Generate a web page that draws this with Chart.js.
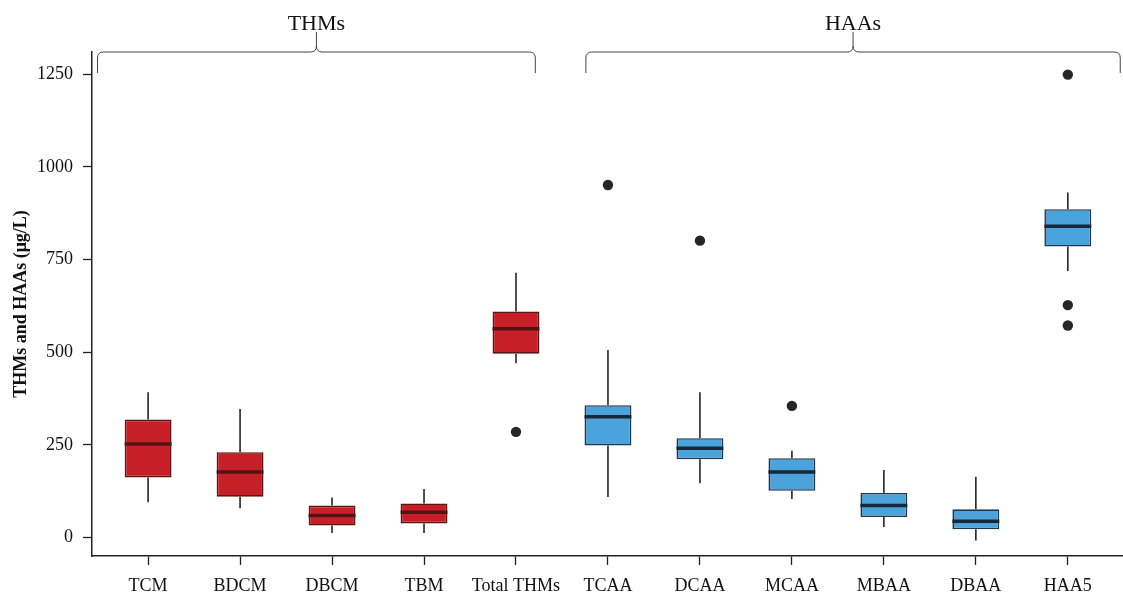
<!DOCTYPE html>
<html><head><meta charset="utf-8">
<script src="https://cdn.jsdelivr.net/npm/chart.js@4.4.0/dist/chart.umd.min.js"></script>
<style>html,body{margin:0;padding:0;background:#fff;overflow:hidden;}</style>
</head><body>
<canvas id="c" width="1123" height="596" style="display:block;width:1123px;height:596px"></canvas>
<script>
// ---- data ----
const categories = ['TCM','BDCM','DBCM','TBM','Total THMs','TCAA','DCAA','MCAA','MBAA','DBAA','HAA5'];
const groups     = ['THMs','THMs','THMs','THMs','THMs','HAAs','HAAs','HAAs','HAAs','HAAs','HAAs'];
const whiskerLow  = [95, 79, 12, 12, 470, 109, 146, 104, 28, -8, 719];
const q1          = [162, 110, 32, 38, 496, 248, 211, 126, 55, 22, 785];
const median      = [252, 177, 59, 68, 563, 326, 241, 177, 86, 44, 840];
const q3          = [318, 230, 86, 92, 610, 357, 268, 214, 120, 76, 886];
const whiskerHigh = [392, 347, 108, 131, 714, 506, 392, 234, 182, 164, 931];
const outliers    = [[], [], [], [], [285], [951], [801], [355], [], [], [1249, 627, 572]];
const yTicks = [0, 250, 500, 750, 1000, 1250];
const bracketLabels = ['THMs', 'HAAs'];
const bracketFrom   = [-0.55, 4.76];
const bracketTo     = [4.21, 10.57];

// ---- styles ----
const fillColor   = {THMs: '#C71F27', HAAs: '#4BA3DB'};
const borderColor = {THMs: '#581717', HAAs: '#22384A'};
const medianColor = {THMs: '#521414', HAAs: '#16283A'};
const serif = '"Liberation Serif", "DejaVu Serif", serif';
const halfBox = 0.255;

const boxData = categories.map((c, i) => ({x: i, y: [q1[i], q3[i]]}));
const whiskerData = [];
categories.forEach((c, i) => {
  whiskerData.push({x: i, y: whiskerLow[i]}, {x: i, y: q1[i]}, {x: i, y: null},
                   {x: i, y: q3[i]}, {x: i, y: whiskerHigh[i]}, {x: i, y: null});
});
function medianData(g) {
  const d = [];
  categories.forEach((c, i) => {
    if (groups[i] !== g) return;
    d.push({x: i - halfBox, y: median[i]}, {x: i + halfBox, y: median[i]}, {x: i, y: null});
  });
  return d;
}
const outlierData = [];
outliers.forEach((arr, i) => arr.forEach(v => outlierData.push({x: i, y: v})));

const bracketPlugin = {
  id: 'brackets',
  afterDraw(chart) {
    const {ctx, chartArea, scales} = chart;
    const yTop = chartArea.top;
    ctx.save();
    ctx.strokeStyle = '#444';
    ctx.lineWidth = 1;
    bracketLabels.forEach((lab, k) => {
      const x0 = scales.x.getPixelForValue(bracketFrom[k]);
      const x1 = scales.x.getPixelForValue(bracketTo[k]);
      const xc = (x0 + x1) / 2;
      const r = 6, yEnd = yTop + 21, yTip = yTop - 20;
      ctx.beginPath();
      ctx.moveTo(x0, yEnd);
      ctx.lineTo(x0, yTop + r);
      ctx.quadraticCurveTo(x0, yTop, x0 + r, yTop);
      ctx.lineTo(xc - r, yTop);
      ctx.quadraticCurveTo(xc, yTop, xc, yTop - r);
      ctx.lineTo(xc, yTip);
      ctx.moveTo(xc, yTop - r);
      ctx.quadraticCurveTo(xc, yTop, xc + r, yTop);
      ctx.lineTo(x1 - r, yTop);
      ctx.quadraticCurveTo(x1, yTop, x1, yTop + r);
      ctx.lineTo(x1, yEnd);
      ctx.stroke();
      ctx.fillStyle = '#111';
      ctx.font = '22px ' + serif;
      ctx.textAlign = 'center';
      ctx.textBaseline = 'alphabetic';
      ctx.fillText(lab, xc, yTip - 2);
    });
    ctx.restore();
  }
};

new Chart(document.getElementById('c'), {
  type: 'bar',
  data: {
    datasets: [
      {
        type: 'line', data: whiskerData, borderColor: '#262626', borderWidth: 1.6,
        pointRadius: 0, spanGaps: false, order: 4
      },
      {
        type: 'bar', data: boxData,
        backgroundColor: categories.map((c, i) => fillColor[groups[i]]),
        borderColor: categories.map((c, i) => borderColor[groups[i]]),
        borderWidth: 1.6, borderSkipped: false,
        barPercentage: halfBox * 2, categoryPercentage: 1, order: 3
      },
      {
        type: 'line', data: medianData('THMs'), borderColor: medianColor.THMs, borderWidth: 3.5,
        borderCapStyle: 'butt', pointRadius: 0, spanGaps: false, order: 2
      },
      {
        type: 'line', data: medianData('HAAs'), borderColor: medianColor.HAAs, borderWidth: 3.5,
        borderCapStyle: 'butt', pointRadius: 0, spanGaps: false, order: 2
      },
      {
        type: 'scatter', data: outlierData, backgroundColor: '#262626', borderColor: '#262626',
        pointRadius: 5.2, borderWidth: 0, order: 1
      }
    ]
  },
  options: {
    responsive: false,
    animation: false,
    devicePixelRatio: 1,
    layout: {autoPadding: false, padding: {top: 52, right: 0, bottom: 0, left: 0}},
    plugins: {legend: {display: false}, tooltip: {enabled: false}},
    scales: {
      x: {
        type: 'linear', min: -0.61, max: 10.6, offset: false,
        afterBuildTicks: s => { s.ticks = categories.map((c, i) => ({value: i})); },
        afterFit: s => { s.height = 40; s.paddingLeft = 0; s.paddingRight = 0; },
        grid: {display: true, drawOnChartArea: false, drawTicks: true, tickLength: 9, tickWidth: 1.3, tickColor: '#222', offset: false},
        border: {display: true, color: '#222', width: 1.5},
        ticks: {
          padding: 10, color: '#111', maxRotation: 0, autoSkip: false,
          font: {family: serif, size: 18},
          callback: v => categories[v]
        }
      },
      y: {
        type: 'linear', min: -50, max: 1310,
        afterBuildTicks: s => { s.ticks = yTicks.map(v => ({value: v})); },
        afterFit: s => { s.width = 92; s.paddingTop = 0; s.paddingBottom = 0; },
        grid: {display: true, drawOnChartArea: false, drawTicks: true, tickLength: 9, tickWidth: 1.3, tickColor: '#222'},
        border: {display: true, color: '#222', width: 1.5},
        ticks: {padding: 10, color: '#111', font: {family: serif, size: 18}, callback: v => String(v)},
        title: {
          display: true, text: 'THMs and HAAs (μg/L)', color: '#111',
          font: {family: serif, size: 18, weight: 'bold'}, padding: {top: 11, bottom: 0}
        }
      }
    }
  },
  plugins: [bracketPlugin]
});
</script>
</body></html>
